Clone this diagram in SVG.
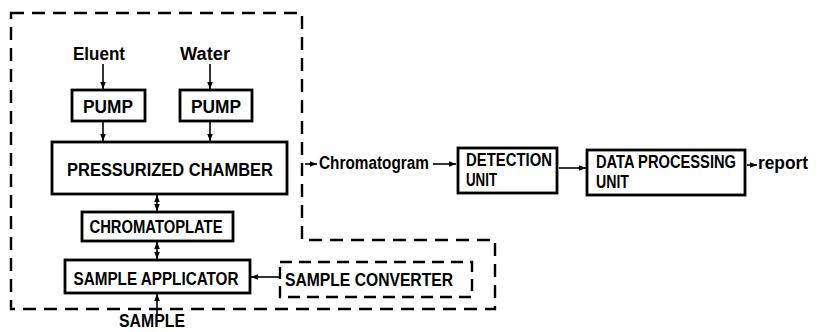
<svg xmlns="http://www.w3.org/2000/svg" width="837" height="332" viewBox="0 0 837 332">
<style>
.box{fill:#fff;stroke:#000;stroke-width:2.8}
.dbox{fill:#fff;stroke:#000;stroke-width:2.4;stroke-dasharray:12 7}
.dash{fill:none;stroke:#000;stroke-width:2.4;stroke-dasharray:13 8}
.ln{fill:none;stroke:#000;stroke-width:1.6}
text{font-family:"Liberation Sans",Arial,sans-serif;font-weight:bold;font-size:17.5px;fill:#000}
.c{text-anchor:middle}
</style>
<defs>
<marker id="ah" viewBox="0 0 10 10" refX="10" refY="5" markerWidth="7" markerHeight="7" orient="auto-start-reverse" markerUnits="userSpaceOnUse"><path d="M0,1 L10,5 L0,9 z"/></marker>
</defs>
<rect width="837" height="332" fill="#fff"/>
<g id="boundary"><path class="dash" d="M11,13 H302 V240 H495 V309 H11 Z"/></g>
<g id="connectors">
<line class="ln" x1="103" y1="64" x2="103" y2="89" marker-end="url(#ah)"/>
<line class="ln" x1="210" y1="64" x2="210" y2="89" marker-end="url(#ah)"/>
<line class="ln" x1="103" y1="122" x2="103" y2="141" marker-end="url(#ah)"/>
<line class="ln" x1="210" y1="122" x2="210" y2="141" marker-end="url(#ah)"/>
<line class="ln" x1="157" y1="195" x2="157" y2="211" marker-start="url(#ah)" marker-end="url(#ah)"/>
<line class="ln" x1="157" y1="242" x2="157" y2="259" marker-start="url(#ah)" marker-end="url(#ah)"/>
<line class="ln" x1="157" y1="315" x2="157" y2="294" marker-end="url(#ah)"/>
<line class="ln" x1="280" y1="277" x2="251" y2="277" marker-end="url(#ah)"/>
<line class="ln" x1="305" y1="164" x2="317" y2="164" marker-end="url(#ah)"/>
<line class="ln" x1="433" y1="164" x2="456" y2="164" marker-end="url(#ah)"/>
<line class="ln" x1="559" y1="168" x2="586" y2="168" marker-end="url(#ah)"/>
<line class="ln" x1="747" y1="165" x2="757" y2="165" marker-end="url(#ah)"/>
</g>
<g id="eluent"><text class="c" x="99" y="60" textLength="52" lengthAdjust="spacingAndGlyphs">Eluent</text></g>
<g id="water"><text class="c" x="205" y="60" textLength="50" lengthAdjust="spacingAndGlyphs">Water</text></g>
<g id="pump1"><rect class="box" x="72" y="90" width="73" height="31"/><text class="c" x="108" y="113" textLength="50" lengthAdjust="spacingAndGlyphs">PUMP</text></g>
<g id="pump2"><rect class="box" x="180" y="90" width="72" height="31"/><text class="c" x="216" y="113" textLength="50" lengthAdjust="spacingAndGlyphs">PUMP</text></g>
<g id="chamber"><rect class="box" x="52" y="142" width="235" height="52"/><text class="c" x="170" y="176" textLength="206" lengthAdjust="spacingAndGlyphs">PRESSURIZED CHAMBER</text></g>
<g id="chromatoplate"><rect class="box" x="82" y="212" width="151" height="29"/><text class="c" x="156" y="233" textLength="133" lengthAdjust="spacingAndGlyphs">CHROMATOPLATE</text></g>
<g id="applicator"><rect class="box" x="65" y="260" width="185" height="33"/><text class="c" x="156" y="285" textLength="165" lengthAdjust="spacingAndGlyphs">SAMPLE APPLICATOR</text></g>
<g id="converter"><rect class="dbox" x="280" y="262" width="192" height="35"/><text class="c" x="369" y="286" textLength="168" lengthAdjust="spacingAndGlyphs">SAMPLE CONVERTER</text></g>
<g id="sample"><text class="c" x="152" y="327" font-size="15" textLength="66" lengthAdjust="spacingAndGlyphs">SAMPLE</text></g>
<g id="chromatogram"><text x="319" y="169" textLength="110" lengthAdjust="spacingAndGlyphs">Chromatogram</text></g>
<g id="detection"><rect class="box" x="458" y="148" width="99" height="45"/><text x="466" y="166" textLength="86" lengthAdjust="spacingAndGlyphs">DETECTION</text><text x="466" y="186" textLength="31" lengthAdjust="spacingAndGlyphs">UNIT</text></g>
<g id="dataproc"><rect class="box" x="587" y="150" width="158" height="45"/><text x="596" y="168" textLength="140" lengthAdjust="spacingAndGlyphs">DATA PROCESSING</text><text x="596" y="188" textLength="33" lengthAdjust="spacingAndGlyphs">UNIT</text></g>
<g id="report"><text x="758" y="169" textLength="50" lengthAdjust="spacingAndGlyphs">report</text></g>
</svg>
